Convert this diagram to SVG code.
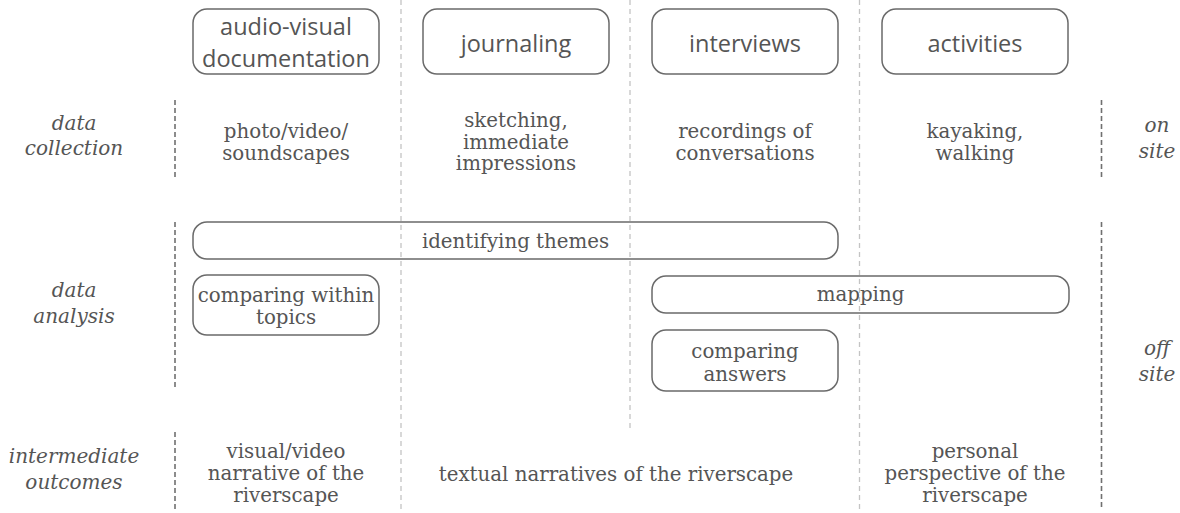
<svg xmlns="http://www.w3.org/2000/svg" width="1180" height="513" viewBox="0 0 1180 513">
<style>
.bg{fill:#ffffff}
.box{fill:none;stroke:#6a6a6a;stroke-width:1.5}
.sans{font-family:"Open Sans","Lato",sans-serif;font-size:23.5px;fill:#555555;text-anchor:middle}
.serif{font-family:"DejaVu Serif","Liberation Serif",serif;font-size:19.8px;fill:#555555;text-anchor:middle}
.lab{font-family:"DejaVu Serif","Liberation Serif",serif;font-style:italic;font-size:20px;fill:#555555;text-anchor:middle}
.dark{stroke:#707070;stroke-width:1.6;stroke-dasharray:5 3;fill:none}
.light{stroke:#c4c4c4;stroke-width:1.3;stroke-dasharray:5 4;fill:none}
</style>
<rect class="bg" x="0" y="0" width="1180" height="513"/>
<g id="connectors">
<line class="light" x1="401" y1="0" x2="401" y2="510"/>
<line class="light" x1="630" y1="0" x2="630" y2="429"/>
<line class="light" x1="859.5" y1="0" x2="859.5" y2="510"/>
<line class="dark" x1="175" y1="100" x2="175" y2="179"/>
<line class="dark" x1="175" y1="222" x2="175" y2="389"/>
<line class="dark" x1="175" y1="432" x2="175" y2="510"/>
<line class="dark" x1="1101.5" y1="100" x2="1101.5" y2="179"/>
<line class="dark" x1="1101.5" y1="222" x2="1101.5" y2="510"/>
</g>
<g id="label-data-collection">
<text class="lab" x="74" y="130">data</text>
<text class="lab" x="74" y="155">collection</text>
</g>
<g id="label-data-analysis">
<text class="lab" x="74" y="297">data</text>
<text class="lab" x="74" y="323">analysis</text>
</g>
<g id="label-intermediate-outcomes">
<text class="lab" x="74" y="463">intermediate</text>
<text class="lab" x="74" y="489">outcomes</text>
</g>
<g id="label-on-site">
<text class="lab" x="1157" y="132">on</text>
<text class="lab" x="1157" y="158">site</text>
</g>
<g id="label-off-site">
<text class="lab" x="1157" y="355">off</text>
<text class="lab" x="1157" y="381">site</text>
</g>
<g id="node-audio-visual">
<rect class="box" x="193" y="9" width="186" height="65" rx="14"/>
<text class="sans" x="286" y="35">audio-visual</text>
<text class="sans" x="286" y="67">documentation</text>
</g>
<g id="node-journaling">
<rect class="box" x="423" y="9" width="186" height="65" rx="14"/>
<text class="sans" x="516" y="52">journaling</text>
</g>
<g id="node-interviews">
<rect class="box" x="652" y="9" width="186" height="65" rx="14"/>
<text class="sans" x="745" y="52">interviews</text>
</g>
<g id="node-activities">
<rect class="box" x="882" y="9" width="186" height="65" rx="14"/>
<text class="sans" x="975" y="52">activities</text>
</g>
<g id="text-photo">
<text class="serif" x="286" y="138">photo/video/</text>
<text class="serif" x="286" y="160">soundscapes</text>
</g>
<g id="text-sketching">
<text class="serif" x="516" y="127">sketching,</text>
<text class="serif" x="516" y="148.5">immediate</text>
<text class="serif" x="516" y="170">impressions</text>
</g>
<g id="text-recordings">
<text class="serif" x="745" y="138">recordings of</text>
<text class="serif" x="745" y="160">conversations</text>
</g>
<g id="text-kayaking">
<text class="serif" x="975" y="138">kayaking,</text>
<text class="serif" x="975" y="160">walking</text>
</g>
<g id="node-identifying-themes">
<rect class="box" x="193" y="222" width="645" height="37" rx="14"/>
<text class="serif" x="515.5" y="248">identifying themes</text>
</g>
<g id="node-comparing-within">
<rect class="box" x="193" y="275" width="186" height="60" rx="14"/>
<text class="serif" x="286" y="302">comparing within</text>
<text class="serif" x="286" y="324">topics</text>
</g>
<g id="node-mapping">
<rect class="box" x="652" y="276" width="417" height="37" rx="14"/>
<text class="serif" x="860.5" y="301">mapping</text>
</g>
<g id="node-comparing-answers">
<rect class="box" x="652" y="330" width="186" height="61" rx="14"/>
<text class="serif" x="745" y="358">comparing</text>
<text class="serif" x="745" y="381">answers</text>
</g>
<g id="text-visual-video">
<text class="serif" x="286" y="458">visual/video</text>
<text class="serif" x="286" y="480">narrative of the</text>
<text class="serif" x="286" y="502">riverscape</text>
</g>
<g id="text-textual">
<text class="serif" x="616" y="481">textual narratives of the riverscape</text>
</g>
<g id="text-personal">
<text class="serif" x="975" y="458">personal</text>
<text class="serif" x="975" y="480">perspective of the</text>
<text class="serif" x="975" y="502">riverscape</text>
</g>
</svg>
